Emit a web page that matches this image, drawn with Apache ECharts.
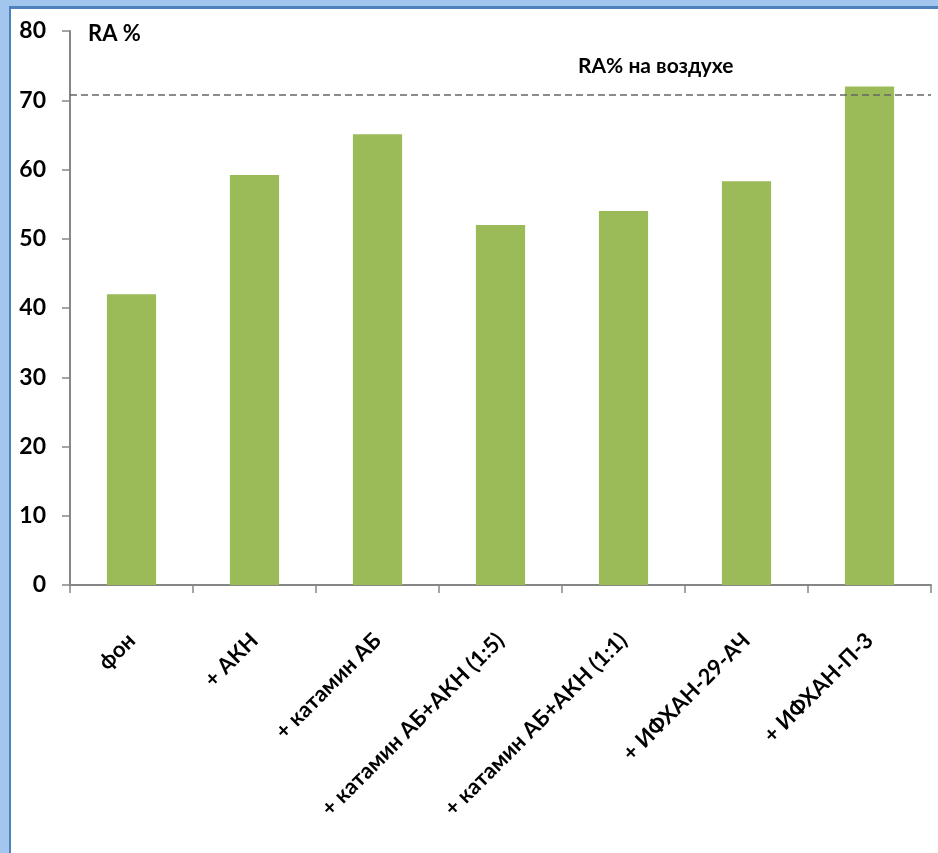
<!DOCTYPE html>
<html>
<head>
<meta charset="utf-8">
<script src="https://cdn.jsdelivr.net/npm/echarts@6/dist/echarts.min.js"></script>
<style>
  html, body { margin: 0; padding: 0; background: #ffffff; }
  #chart { width: 938px; height: 853px; }
</style>
</head>
<body>
<div id="chart"></div>
<script>
// Relative amplitude (RA, %) for each sample, plus the reference level in air
const categories = [
  'фон',
  '+ АКН',
  '+ катамин АБ',
  '+ катамин АБ+АКН (1:5)',
  '+ катамин АБ+АКН (1:1)',
  '+ ИФХАН-29-АЧ',
  '+ ИФХАН-П-3'
];
const raValues = [42, 59.2, 65.1, 52, 54, 58.3, 72];
const airLevel = 70.8;
const yTicks = { min: 0, max: 80, interval: 10 };

const FONT = 'Lato, "Noto Sans", sans-serif';
const AXIS_COLOR = '#868686';

const chart = echarts.init(document.getElementById('chart'), null, { renderer: 'canvas' });

chart.setOption({
  backgroundColor: '#ffffff',
  animation: false,
  grid: { left: 70, right: 7, top: 31, bottom: 268, containLabel: false },
  xAxis: {
    type: 'category',
    data: categories,
    boundaryGap: true,
    axisLine: { lineStyle: { color: AXIS_COLOR, width: 2 } },
    axisTick: { show: true, length: 8, lineStyle: { color: AXIS_COLOR, width: 1.5 } },
    axisLabel: {
      rotate: 45,
      margin: 52,
      color: '#000000',
      fontFamily: FONT,
      fontWeight: 'bold',
      fontSize: 22,
      interval: 0
    }
  },
  yAxis: {
    type: 'value',
    min: yTicks.min,
    max: yTicks.max,
    interval: yTicks.interval,
    splitLine: { show: false },
    axisLine: { show: true, lineStyle: { color: AXIS_COLOR, width: 2 } },
    axisTick: { show: true, length: 8, lineStyle: { color: AXIS_COLOR, width: 1.5 } },
    axisLabel: {
      margin: 24,
      color: '#000000',
      fontFamily: FONT,
      fontWeight: 'bold',
      fontSize: 23
    }
  },
  series: [{
    type: 'bar',
    data: raValues,
    barWidth: '40%',
    itemStyle: { color: '#9bbb59' },
    markLine: {
      silent: true,
      symbol: 'none',
      label: { show: false },
      lineStyle: { color: '#666666', type: [7, 4], width: 1.5 },
      data: [{ yAxis: airLevel }]
    }
  }],
  graphic: [
    // slide frame: light band with a darker inner edge, top and left
    { type: 'rect', left: 0, top: 0, shape: { width: 938, height: 9 }, style: { fill: '#a3c6ee' }, z: 100 },
    { type: 'rect', left: 0, top: 0, shape: { width: 9, height: 853 }, style: { fill: '#a3c6ee' }, z: 100 },
    { type: 'rect', left: 9, top: 6, shape: { width: 929, height: 3 }, style: { fill: '#4f81bd' }, z: 101 },
    { type: 'rect', left: 9, top: 6, shape: { width: 2, height: 847 }, style: { fill: '#4f81bd' }, z: 101 },
    // axis title
    {
      type: 'text', left: 88, top: 23, z: 50,
      style: { text: 'RA %', fill: '#000000', font: 'bold 22px ' + FONT }
    },
    // caption for the dashed reference level
    {
      type: 'text', left: 578, top: 56, z: 50,
      style: { text: 'RA% на воздухе', fill: '#000000', font: 'bold 21px ' + FONT }
    }
  ]
});
</script>
</body>
</html>
